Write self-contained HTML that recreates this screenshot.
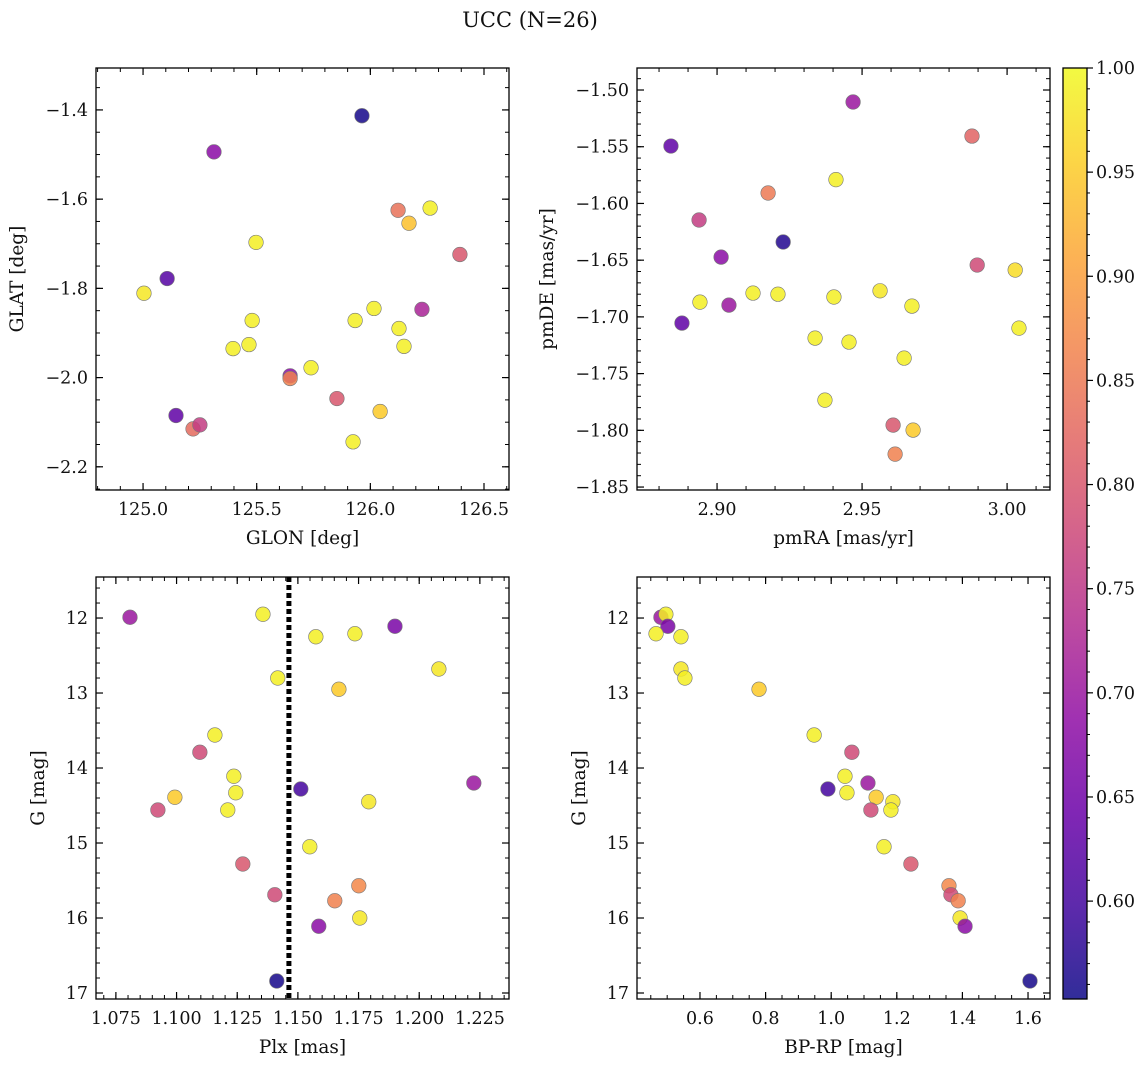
<!DOCTYPE html>
<html><head><meta charset="utf-8"><style>
body{margin:0;background:#fff}
svg text{font-family:"DejaVu Serif","Liberation Serif",serif;fill:#111}
</style></head><body>
<svg id="fig" width="1148" height="1067" xmlns="http://www.w3.org/2000/svg">
<text x="530" y="27" font-size="21" text-anchor="middle">UCC (N=26)</text>
</svg>
<script>
// Panel 1: GLON / GLAT
const glon=[125.963,125.312,125.106,125.004,125.497,125.145,125.22,125.25,125.396,125.466,125.48,125.647,125.647,125.739,125.853,125.924,125.933,126.016,126.043,126.122,126.17,126.263,126.126,126.148,126.227,126.394];
const glat=[-1.413,-1.494,-1.778,-1.811,-1.697,-2.085,-2.115,-2.106,-1.935,-1.926,-1.872,-1.996,-2.002,-1.978,-2.047,-2.144,-1.872,-1.845,-2.076,-1.625,-1.654,-1.620,-1.89,-1.93,-1.847,-1.724];
const prob1=[0.56,0.68,0.62,0.98,0.99,0.63,0.83,0.76,0.99,0.99,0.99,0.68,0.86,0.99,0.80,0.99,0.99,0.99,0.95,0.84,0.94,0.99,0.99,0.99,0.72,0.80];
// Panel 2: pmRA / pmDE
const pmra=[2.9469,2.8841,2.9879,2.9176,2.941,2.8938,2.9228,2.9014,2.9897,3.0028,2.8941,2.9124,2.921,2.9403,2.9562,2.9672,2.9041,2.8879,3.0041,2.9338,2.9455,2.9645,2.9372,2.9607,2.9676,2.9614];
const pmde=[-1.5106,-1.5494,-1.5406,-1.5908,-1.579,-1.6146,-1.634,-1.6473,-1.6543,-1.6587,-1.687,-1.679,-1.680,-1.6825,-1.677,-1.6905,-1.6896,-1.7055,-1.7099,-1.7187,-1.7222,-1.7363,-1.7734,-1.7954,-1.7998,-1.821];
const prob2=[0.70,0.63,0.82,0.85,0.99,0.76,0.57,0.68,0.78,0.97,0.99,0.99,0.99,0.99,0.98,0.99,0.70,0.63,0.99,0.99,0.99,0.99,0.99,0.80,0.95,0.86];
// Panel 3: Plx / G
const plx=[1.0808,1.1356,1.1574,1.1735,1.19,1.2081,1.1417,1.1669,1.1158,1.1096,1.1236,1.1244,1.1211,1.0993,1.0923,1.1512,1.1792,1.2225,1.1549,1.1273,1.1405,1.1751,1.1652,1.1755,1.1586,1.1413];
const g3=[11.99,11.95,12.25,12.21,12.11,12.68,12.8,12.95,13.56,13.79,14.11,14.33,14.56,14.39,14.56,14.28,14.45,14.2,15.05,15.28,15.69,15.57,15.77,16.0,16.11,16.84];
const prob3=[0.70,0.99,0.99,0.99,0.66,0.98,0.99,0.95,0.99,0.78,0.99,0.99,0.99,0.95,0.78,0.60,0.98,0.70,0.99,0.80,0.78,0.87,0.86,0.98,0.68,0.56];
const plxLine=1.1463;
// Panel 4: BP-RP / G
const bprp=[0.481,0.496,0.502,0.466,0.542,0.542,0.554,0.78,0.948,1.063,1.112,0.99,1.042,1.048,1.137,1.188,1.121,1.182,1.161,1.243,1.359,1.365,1.387,1.393,1.408,1.606];
const g4=[11.99,11.95,12.11,12.21,12.25,12.68,12.8,12.95,13.56,13.79,14.2,14.28,14.11,14.33,14.39,14.45,14.56,14.56,15.05,15.28,15.57,15.69,15.77,16.0,16.11,16.84];
const prob4=[0.70,0.99,0.66,0.99,0.99,0.98,0.99,0.95,0.99,0.78,0.70,0.60,0.99,0.99,0.95,0.98,0.78,0.99,0.99,0.80,0.87,0.78,0.86,0.98,0.68,0.56];
const cbTicks=[0.60,0.65,0.70,0.75,0.80,0.85,0.90,0.95,1.00];

const NS="http://www.w3.org/2000/svg";
const svg=document.getElementById('fig');
function mk(tag,attrs,parent){const e=document.createElementNS(NS,tag);for(const k in attrs)e.setAttribute(k,attrs[k]);(parent||svg).appendChild(e);return e;}
const stops=["#0d0887","#41049d","#6a00a8","#8f0da4","#b12a90","#cc4778","#e16462","#f2844b","#fca636","#fcce25","#f0f921"];
function hex(h){return [1,3,5].map(i=>parseInt(h.substr(i,2),16));}
const PMIN=0.553,PMAX=1.0;
function cmap(p){let t=(p-PMIN)/(PMAX-PMIN);t=Math.max(0,Math.min(1,t))*10;const i=Math.min(9,Math.floor(t));const f=t-i;const a=hex(stops[i]),b=hex(stops[i+1]);return 'rgb('+a.map((v,k)=>Math.round(v+(b[k]-v)*f)).join(',')+')';}
function fmt(v,d){return (v<0?'\u2212':'')+Math.abs(v).toFixed(d);}

function panel(o){
  const g=mk('g',{});
  
  
  const X=v=>o.x0+(v-o.xmin)/(o.xmax-o.xmin)*(o.x1-o.x0);
  const Y=o.yinv?(v=>o.y0+(v-o.ymin)/(o.ymax-o.ymin)*(o.y1-o.y0)):(v=>o.y1-(v-o.ymin)/(o.ymax-o.ymin)*(o.y1-o.y0));
  const eps=1e-9;
  function ticks(min,max,step){const a=[];for(let v=Math.ceil(min/step-eps)*step;v<=max+eps;v+=step)a.push(+v.toFixed(6));return a;}
  ticks(o.xmin,o.xmax,o.xminor).forEach(v=>{const x=X(v);mk('line',{x1:x,x2:x,y1:o.y1,y2:o.y1-4,stroke:'#000','stroke-width':1},g);mk('line',{x1:x,x2:x,y1:o.y0,y2:o.y0+4,stroke:'#000','stroke-width':1},g);});
  ticks(o.xmin,o.xmax,o.xmajor).forEach(v=>{const x=X(v);mk('line',{x1:x,x2:x,y1:o.y1,y2:o.y1-7,stroke:'#000','stroke-width':1.2},g);mk('line',{x1:x,x2:x,y1:o.y0,y2:o.y0+7,stroke:'#000','stroke-width':1.2},g);
    const t=mk('text',{x:x,y:o.y1+25,'font-size':17.5,'text-anchor':'middle'},g);t.textContent=fmt(v,o.xd);});
  ticks(Math.min(o.ymin,o.ymax),Math.max(o.ymin,o.ymax),o.yminor).forEach(v=>{const y=Y(v);mk('line',{x1:o.x0,x2:o.x0+4,y1:y,y2:y,stroke:'#000','stroke-width':1},g);mk('line',{x1:o.x1,x2:o.x1-4,y1:y,y2:y,stroke:'#000','stroke-width':1},g);});
  ticks(Math.min(o.ymin,o.ymax),Math.max(o.ymin,o.ymax),o.ymajor).forEach(v=>{const y=Y(v);mk('line',{x1:o.x0,x2:o.x0+7,y1:y,y2:y,stroke:'#000','stroke-width':1.2},g);mk('line',{x1:o.x1,x2:o.x1-7,y1:y,y2:y,stroke:'#000','stroke-width':1.2},g);
    const t=mk('text',{x:o.x0-8,y:y+6,'font-size':17.5,'text-anchor':'end'},g);t.textContent=fmt(v,o.yd);});
  if(o.vline!==undefined){const l=mk('line',{x1:X(o.vline),x2:X(o.vline),y1:o.y0,y2:o.y1,stroke:'#000','stroke-width':5,'stroke-dasharray':'5 3'},g);}
  o.xs.forEach((v,i)=>{const c=mk('circle',{cx:X(v),cy:Y(o.ys[i]),r:7.3,fill:cmap(o.ps[i]),'fill-opacity':0.85,stroke:'#777','stroke-width':0.6},g);
    });
  const fr=mk('rect',{x:o.x0,y:o.y0,width:o.x1-o.x0,height:o.y1-o.y0,fill:'none',stroke:'#000','stroke-width':1.3},g);
  
  const xl=mk('text',{x:(o.x0+o.x1)/2,y:o.y1+54,'font-size':18.5,'text-anchor':'middle'},g);xl.textContent=o.xlabel;
  
  const yc=(o.y0+o.y1)/2;const yl=mk('text',{x:o.ylx,y:yc,'font-size':18.5,'text-anchor':'middle',transform:`rotate(-90 ${o.ylx} ${yc})`},g);yl.textContent=o.ylabel;
  
}
panel({name:'panel-glon-glat',x0:96,x1:509,y0:68,y1:490,xmin:124.793,xmax:126.61,ymin:-2.252,ymax:-1.306,xmajor:0.5,xminor:0.1,ymajor:0.2,yminor:0.05,xd:1,yd:1,xs:glon,ys:glat,ps:prob1,xlabel:'GLON [deg]',ylabel:'GLAT [deg]',ylx:23});
panel({name:'panel-pm',x0:637,x1:1050,y0:68,y1:490,xmin:2.8724,xmax:3.0148,ymin:-1.8526,ymax:-1.4806,xmajor:0.05,xminor:0.01,ymajor:0.05,yminor:0.01,xd:2,yd:2,xs:pmra,ys:pmde,ps:prob2,xlabel:'pmRA [mas/yr]',ylabel:'pmDE [mas/yr]',ylx:553});
panel({name:'panel-plx-g',x0:96,x1:509,y0:577,y1:999,xmin:1.0668,xmax:1.237,ymin:11.453,ymax:17.08,yinv:true,xmajor:0.025,xminor:0.005,ymajor:1,yminor:0.2,xd:3,yd:0,xs:plx,ys:g3,ps:prob3,xlabel:'Plx [mas]',ylabel:'G [mag]',ylx:44,vline:plxLine});
panel({name:'panel-cmd',x0:637,x1:1050,y0:577,y1:999,xmin:0.408,xmax:1.667,ymin:11.453,ymax:17.08,yinv:true,xmajor:0.2,xminor:0.05,ymajor:1,yminor:0.2,xd:1,yd:0,xs:bprp,ys:g4,ps:prob4,xlabel:'BP-RP [mag]',ylabel:'G [mag]',ylx:585});

const cb=mk('g',{});


const defs=mk('defs',{},cb);const lg=mk('linearGradient',{id:'plasma',x1:0,y1:1,x2:0,y2:0},defs);
stops.forEach((s,i)=>mk('stop',{offset:i/10,'stop-color':s,'stop-opacity':0.85},lg));
const CX0=1063,CX1=1087,CY0=68,CY1=999;
mk('rect',{x:CX0,y:CY0,width:CX1-CX0,height:CY1-CY0,fill:'url(#plasma)',stroke:'#000','stroke-width':1.3},cb);
const CY=v=>CY1-(v-PMIN)/(PMAX-PMIN)*(CY1-CY0);
for(let v=0.56;v<=1.0001;v+=0.01){const y=CY(v);mk('line',{x1:CX1,x2:CX1+3,y1:y,y2:y,stroke:'#000','stroke-width':1},cb);}
cbTicks.forEach(v=>{const y=CY(v);mk('line',{x1:CX1,x2:CX1+6,y1:y,y2:y,stroke:'#000','stroke-width':1.2},cb);
  const t=mk('text',{x:CX1+9,y:y+6,'font-size':17.5},cb);t.textContent=v.toFixed(2);
  });
</script>
</body></html>
